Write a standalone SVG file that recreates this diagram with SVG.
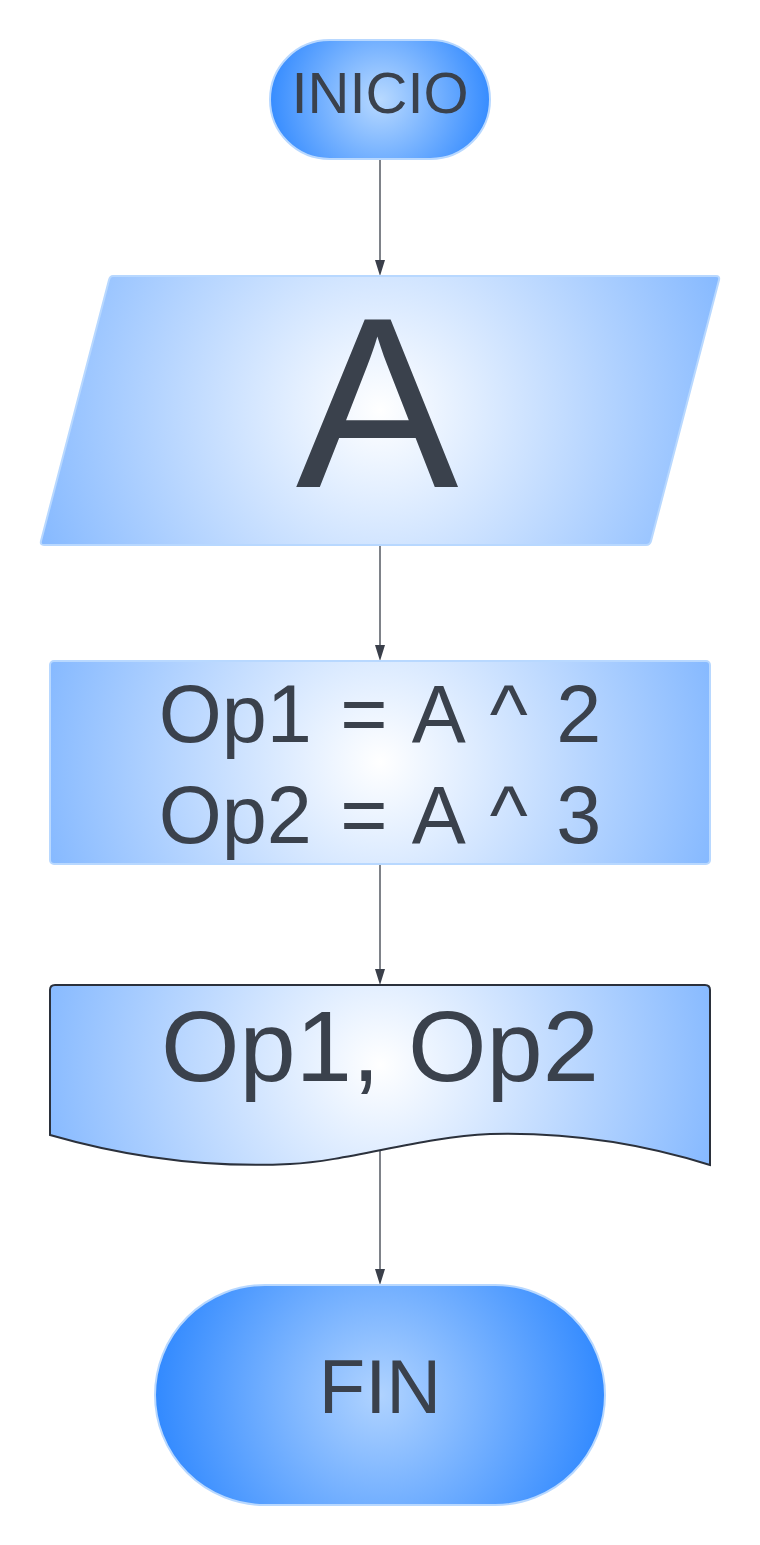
<svg xmlns="http://www.w3.org/2000/svg" width="760" height="1545" viewBox="0 0 760 1545">
  <defs>
    <radialGradient id="gInicio" gradientUnits="userSpaceOnUse" cx="380" cy="100" r="115">
      <stop offset="0" stop-color="#b8d9ff"/>
      <stop offset="1" stop-color="#3189ff"/>
    </radialGradient>
    <radialGradient id="gFin" gradientUnits="userSpaceOnUse" cx="380" cy="1395" r="230">
      <stop offset="0" stop-color="#b0d3ff"/>
      <stop offset="1" stop-color="#2f88ff"/>
    </radialGradient>
    <radialGradient id="gInput" gradientUnits="userSpaceOnUse" cx="380" cy="410" r="370">
      <stop offset="0" stop-color="#ffffff"/>
      <stop offset="1" stop-color="#84b8ff"/>
    </radialGradient>
    <radialGradient id="gProc" gradientUnits="userSpaceOnUse" cx="380" cy="762" r="350">
      <stop offset="0" stop-color="#ffffff"/>
      <stop offset="1" stop-color="#84b8ff"/>
    </radialGradient>
    <radialGradient id="gDoc" gradientUnits="userSpaceOnUse" cx="380" cy="1065" r="350">
      <stop offset="0" stop-color="#ffffff"/>
      <stop offset="1" stop-color="#84b8ff"/>
    </radialGradient>
    <style>
      .lbl { font-family: "Liberation Sans", Arial, sans-serif; fill: #3a414c; text-anchor: middle; }
      .edge { stroke: #b8d8ff; stroke-width: 2; }
      .doc { stroke: #2b313c; stroke-width: 2; }
      .conn { stroke: #3a3f4a; stroke-width: 1.3; fill: none; }
      .head { fill: #3a3f4a; }
    </style>
  </defs>

  <g id="connectors">
    <line class="conn" x1="380" y1="160" x2="380" y2="262"/>
    <line class="conn" x1="380" y1="546" x2="380" y2="647"/>
    <line class="conn" x1="380" y1="865" x2="380" y2="971"/>
    <line class="conn" x1="380" y1="1150" x2="380" y2="1271"/>
    <path class="head" d="M375,260 L385,260 L380,276 Z"/>
    <path class="head" d="M375,645 L385,645 L380,661 Z"/>
    <path class="head" d="M375,969 L385,969 L380,985 Z"/>
    <path class="head" d="M375,1269 L385,1269 L380,1285 Z"/>
  </g>

  <g id="inicio">
    <rect class="edge" fill="url(#gInicio)" x="270" y="40" width="220" height="119" rx="59.5" ry="59.5"/>
    <text class="lbl" x="380" y="113" font-size="58">INICIO</text>
  </g>

  <g id="input-a">
    <path class="edge" fill="url(#gInput)" d="M113,276 L716,276 Q720,276 719,280 L651,541 Q650,545 646,545 L44,545 Q40,545 41,541 L109,280 Q110,276 113,276 Z"/>
    <text class="lbl" x="377" y="487" font-size="244">A</text>
  </g>

  <g id="process">
    <rect class="edge" fill="url(#gProc)" x="50" y="661" width="660" height="203" rx="4" ry="4"/>
    <text class="lbl" x="380" y="742" font-size="81" word-spacing="6">Op1 = A ^ 2</text>
    <text class="lbl" x="380" y="843" font-size="81" word-spacing="6">Op2 = A ^ 3</text>
  </g>

  <g id="output">
    <path class="doc" fill="url(#gDoc)" d="M50,1135 C130,1158 210,1168 290,1164 C350,1161 420,1137 490,1134 C570,1132 640,1143 710,1165 L710,990 Q710,985 705,985 L55,985 Q50,985 50,990 Z"/>
    <text class="lbl" x="380" y="1081" font-size="101">Op1, Op2</text>
  </g>

  <g id="fin">
    <rect class="edge" fill="url(#gFin)" x="155" y="1285" width="450" height="220" rx="110" ry="110"/>
    <text class="lbl" x="380" y="1413" font-size="76">FIN</text>
  </g>
</svg>
